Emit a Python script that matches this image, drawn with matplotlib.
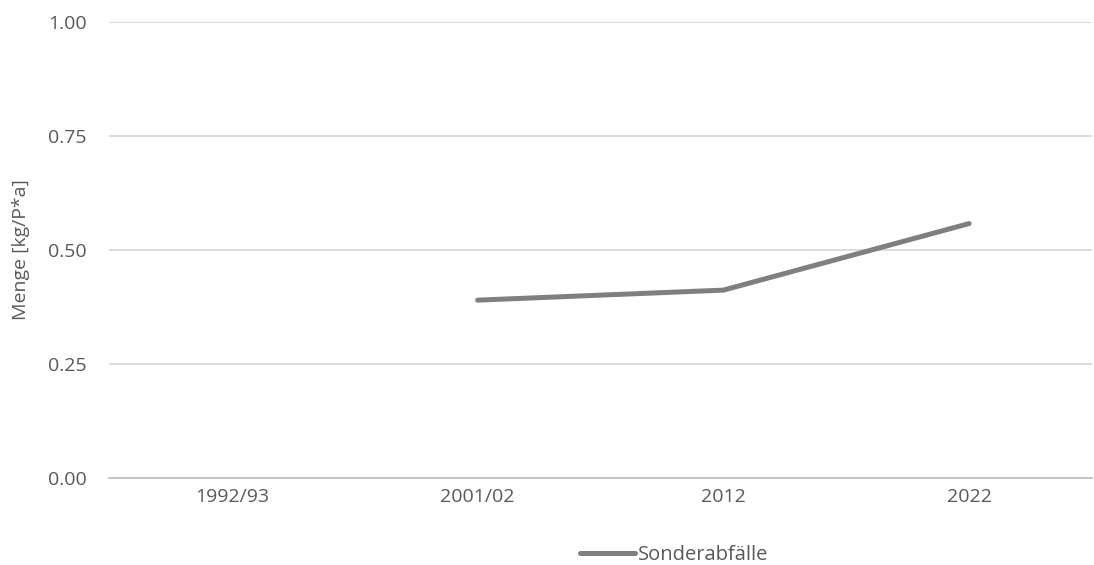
import matplotlib.pyplot as plt
import numpy as np

# data
categories = ["1992/93", "2001/02", "2012", "2022"]
sonderabfaelle = [np.nan, 0.39, 0.412, 0.558]
y_ticks = [0.0, 0.25, 0.5, 0.75, 1.0]

plt.rcParams['font.family'] = ['Open Sans', 'DejaVu Sans']
text_col = '#595959'

fig = plt.figure(figsize=(10.94, 5.65), dpi=100)
ax = fig.add_axes([109 / 1094, 87 / 565, 983 / 1094, 456 / 565])

x = np.arange(len(categories))
ax.plot(x, sonderabfaelle, color='#7f7f7f', lw=3.6, solid_capstyle='round',
        label='Sonderabfälle')

ax.set_xlim(-0.5, len(categories) - 0.5)
ax.set_ylim(0, 1.0)
ax.set_yticks(y_ticks)
ax.set_yticklabels([f"{v:.2f}" for v in y_ticks])
ax.set_xticks(x)
ax.set_xticklabels(categories)
ax.tick_params(axis='both', length=0, labelsize=14, colors=text_col)
ax.tick_params(axis='y', pad=16)
ax.tick_params(axis='x', pad=7)

ax.grid(axis='y', color='#d9d9d9', lw=1.3)
ax.set_axisbelow(True)
for s in ['top', 'right', 'left']:
    ax.spines[s].set_visible(False)
ax.spines['bottom'].set_color('#bfbfbf')
ax.spines['bottom'].set_linewidth(1.3)

ax.set_ylabel('Menge [kg/P*a]', fontsize=14, color=text_col, labelpad=13)

leg = ax.legend(loc='upper center', bbox_to_anchor=(0.575, -0.108), frameon=False,
                fontsize=14.5, handlelength=2.7, handletextpad=0.15)
for t in leg.get_texts():
    t.set_color(text_col)

fig.savefig('out.png', dpi=100)
